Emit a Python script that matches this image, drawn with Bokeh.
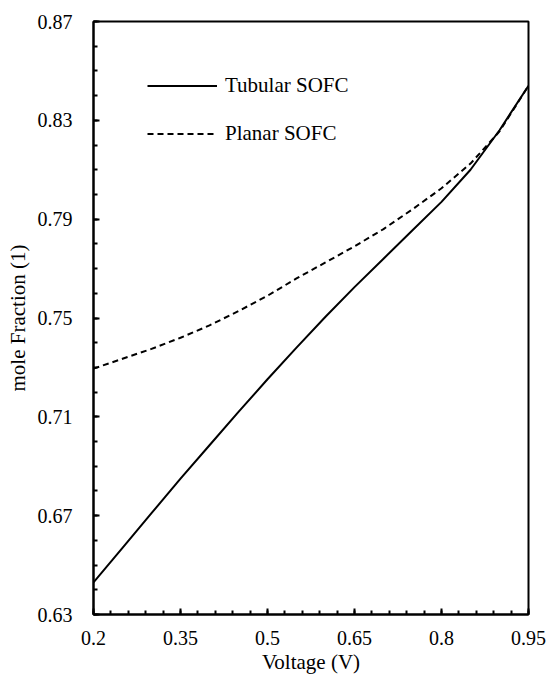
from bokeh.plotting import figure
from bokeh.models import FixedTicker, Legend, LegendItem, Range1d
from bokeh.embed import file_html
from bokeh.resources import INLINE

# ---- data ----
voltage = [0.20, 0.25, 0.30, 0.35, 0.40, 0.45, 0.50, 0.55, 0.60, 0.65, 0.70, 0.75, 0.80, 0.85, 0.90, 0.95]
tubular = [0.643, 0.657, 0.671, 0.685, 0.6985, 0.712, 0.7252, 0.738, 0.7505, 0.7625, 0.774, 0.7855, 0.797, 0.810, 0.826, 0.844]
planar = [0.7295, 0.7335, 0.7375, 0.742, 0.747, 0.7528, 0.759, 0.766, 0.7725, 0.779, 0.786, 0.794, 0.8025, 0.8125, 0.8255, 0.844]

x_ticks = [0.2, 0.35, 0.5, 0.65, 0.8, 0.95]
x_tick_labels = ["0.2", "0.35", "0.5", "0.65", "0.8", "0.95"]
y_ticks = [0.63, 0.67, 0.71, 0.75, 0.79, 0.83, 0.87]
y_tick_labels = ["0.63", "0.67", "0.71", "0.75", "0.79", "0.83", "0.87"]
x_minor = [round(0.2 + 0.03 * i, 2) for i in range(26)]
y_minor = [round(0.63 + 0.01 * i, 2) for i in range(25)]

x_label = "Voltage (V)"
y_label = "mole Fraction (1)"
series_names = ["Tubular SOFC", "Planar SOFC"]

FONT = "Liberation Serif"

p = figure(width=549, height=681, output_backend="svg", toolbar_location=None,
           x_range=Range1d(0.2, 0.95), y_range=Range1d(0.63, 0.87),
           min_border_left=93, min_border_right=21, min_border_top=21, min_border_bottom=67)
p.background_fill_color = "white"
p.border_fill_color = "white"
p.outline_line_color = "black"
p.outline_line_width = 2
p.xgrid.visible = False
p.ygrid.visible = False

l1 = p.line(voltage, tubular, line_color="black", line_width=2)
l2 = p.line(voltage, planar, line_color="black", line_width=2, line_dash="6 4")

for ax in (p.xaxis[0], p.yaxis[0]):
    ax.axis_line_color = "black"
    ax.axis_line_width = 2
    ax.major_tick_line_color = "black"
    ax.minor_tick_line_color = "black"
    ax.major_tick_line_width = 2
    ax.minor_tick_line_width = 2
    ax.major_tick_in = 6
    ax.major_tick_out = 0
    ax.minor_tick_in = 4
    ax.minor_tick_out = 0
    ax.major_label_text_font = FONT
    ax.major_label_text_font_size = "20px"
    ax.major_label_text_color = "black"
    ax.axis_label_text_font = FONT
    ax.axis_label_text_font_size = "21px"
    ax.axis_label_text_font_style = "normal"
    ax.axis_label_text_color = "black"

p.xaxis[0].ticker = FixedTicker(ticks=x_ticks, minor_ticks=x_minor)
p.yaxis[0].ticker = FixedTicker(ticks=y_ticks, minor_ticks=y_minor)
p.xaxis[0].major_label_overrides = {t: s for t, s in zip(x_ticks, x_tick_labels)}
p.yaxis[0].major_label_overrides = {t: s for t, s in zip(y_ticks, y_tick_labels)}
p.xaxis[0].axis_label = x_label
p.yaxis[0].axis_label = y_label
p.xaxis[0].major_label_standoff = 16
p.yaxis[0].major_label_standoff = 21
p.xaxis[0].axis_label_standoff = 2
p.yaxis[0].axis_label_standoff = 5

legend = Legend(items=[LegendItem(label=series_names[0], renderers=[l1]),
                       LegendItem(label=series_names[1], renderers=[l2])],
                location=(54, 468))
legend.border_line_alpha = 0
legend.background_fill_alpha = 0
legend.padding = 0
legend.margin = 0
legend.spacing = 23
legend.glyph_width = 70
legend.glyph_height = 21
legend.label_height = 21
legend.label_standoff = 8
legend.label_text_font = FONT
legend.label_text_font_size = "21px"
legend.label_text_color = "black"
p.add_layout(legend)

open("out.html", "w").write(file_html(p, INLINE))
